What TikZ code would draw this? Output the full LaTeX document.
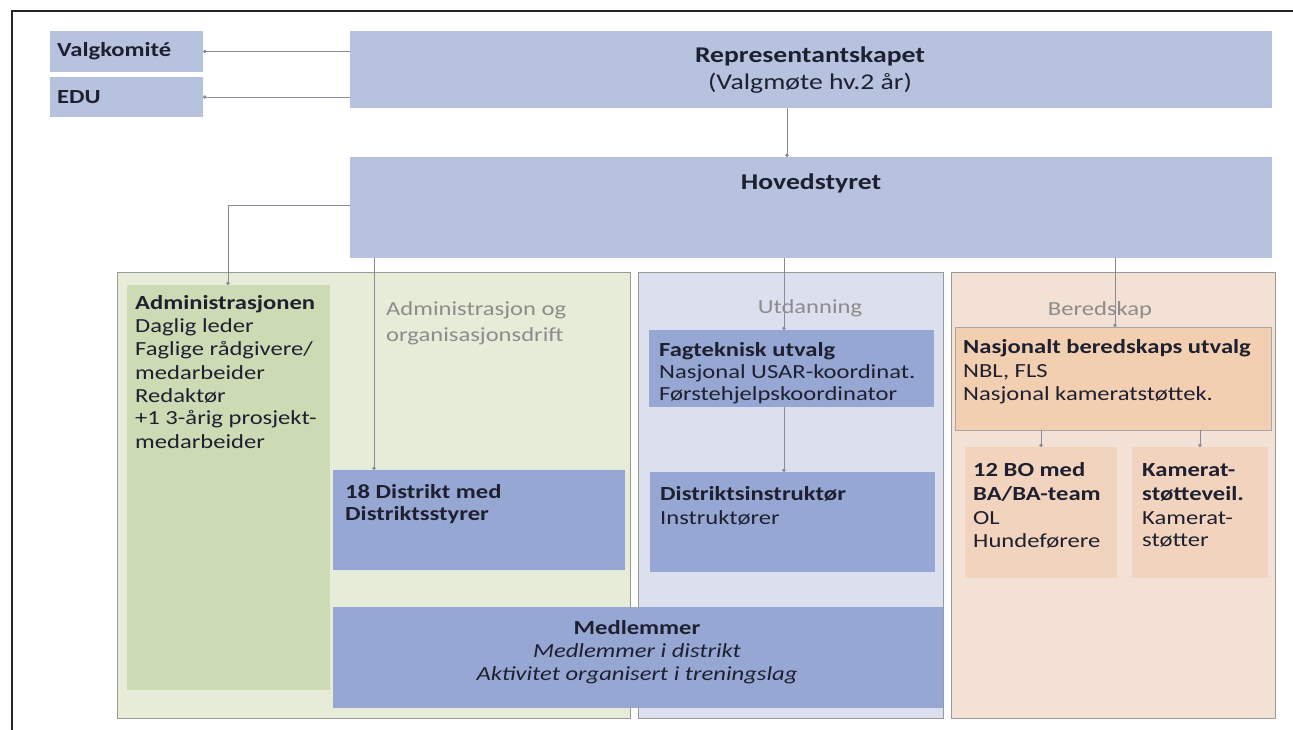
\documentclass[tikz,border=0pt]{standalone}
\usepackage{fontspec}
\setmainfont{Carlito}[FakeStretch=1.23]
\usetikzlibrary{arrows.meta}
\definecolor{lav}{HTML}{B7C2DE}
\definecolor{mblue}{HTML}{97A7D4}
\definecolor{gpanel}{HTML}{E6ECD8}
\definecolor{ginner}{HTML}{CDDBB5}
\definecolor{bpanel}{HTML}{DCDFEE}
\definecolor{opanel}{HTML}{F2E1D4}
\definecolor{obox}{HTML}{F3CFB2}
\definecolor{obox2}{HTML}{F2D4BE}
\definecolor{txt}{HTML}{1E2030}
\definecolor{gtxt}{HTML}{8C8C8C}
\definecolor{conn}{HTML}{8A8A96}
\tikzset{
  box/.style={anchor=north west, inner sep=0pt, outer sep=0pt},
  lavbox/.style={box, fill=lav},
  bluebox/.style={box, fill=mblue},
  panel/.style={box, draw=gray!80, line width=1pt},
  t/.style={anchor=west, inner sep=0pt, text=txt, font=\fontsize{20}{23}\selectfont},
  tb/.style={t, font=\fontsize{20}{23}\selectfont\bfseries},
  ti/.style={t, font=\fontsize{20}{23}\selectfont\itshape},
  tg/.style={t, text=gtxt},
  big/.style={t, anchor=center, font=\fontsize{22.5}{26}\selectfont},
  bigb/.style={big, font=\fontsize{22.5}{26}\selectfont\bfseries},
  link/.style={draw=conn, line width=0.8pt, -{Circle[length=3.5pt]}},
}
\begin{document}
\begin{tikzpicture}[x=1pt,y=-1pt]
\useasboundingbox (0,0) rectangle (1293,730);
\fill[white] (0,0) rectangle (1293,730);
% frame
\draw[line width=2pt, black!85] (12,730) -- (12,11) -- (1293,11);

% top boxes
\node[lavbox, minimum width=153, minimum height=41] (valg) at (50,31) {};
\node[lavbox, minimum width=153, minimum height=40] (edu) at (50,77) {};
\node[tb] (valgt) at (57,51) {Valgkomité};
\node[tb] (edut) at (57,97) {EDU};
\node[lavbox, minimum width=922, minimum height=77] (rep) at (350,31) {};
\node[bigb] (rept) at (810,56) {Representantskapet};
\node[big] (reps) at (810,83) {(Valgmøte hv.2 år)};
\node[lavbox, minimum width=922, minimum height=101] (hov) at (350,157) {};
\node[bigb] (hovt) at (811,183) {Hovedstyret};

% panels
\node[panel, fill=gpanel, minimum width=513, minimum height=446] (pg) at (117,272) {};
\node[panel, fill=bpanel, minimum width=305, minimum height=446] (pb) at (638,272) {};
\node[panel, fill=opanel, minimum width=324, minimum height=446] (po) at (951,272) {};

% green inner
\node[box, fill=ginner, minimum width=203, minimum height=405] (adm) at (127,285) {};
\node[tb] (a1) at (135,304) {Administrasjonen};
\node[t] (a2) at (135,327) {Daglig leder};
\node[t] (a3) at (135,350) {Faglige rådgivere/};
\node[t] (a4) at (135,373) {medarbeider};
\node[t] (a5) at (135,396) {Redaktør};
\node[t] (a6) at (135,419) {+1 3-årig prosjekt-};
\node[t] (a7) at (135,442) {medarbeider};

\node[tg] (aog1) at (386,310) {Administrasjon og};
\node[tg] (aog2) at (386,336) {organisasjonsdrift};
\node[tg, anchor=center] (utd) at (810,308) {Utdanning};
\node[tg, anchor=center] (ber) at (1100,310) {Beredskap};

% blue boxes
\node[bluebox, minimum width=292, minimum height=100] (dist) at (333,470) {};
\node[tb] (d1) at (345,492) {18 Distrikt med};
\node[tb] (d2) at (345,515) {Distriktsstyrer};

\node[bluebox, minimum width=285, minimum height=77] (fag) at (649,330) {};
\node[tb] (f1) at (659,351) {Fagteknisk utvalg};
\node[t] (f2) at (659,373) {Nasjonal USAR-koordinat.};
\node[t] (f3) at (659,395) {Førstehjelpskoordinator};

\node[bluebox, minimum width=285, minimum height=100] (dins) at (650,472) {};
\node[tb] (i1) at (660,494) {Distriktsinstruktør};
\node[t] (i2) at (660,518) {Instruktører};

\node[bluebox, minimum width=610, minimum height=101] (med) at (333,607) {};
\node[tb, anchor=center] (m1) at (637,628) {Medlemmer};
\node[ti, anchor=center] (m2) at (637,651) {Medlemmer i distrikt};
\node[ti, anchor=center] (m3) at (637,675) {Aktivitet organisert i treningslag};

% orange boxes
\node[box, fill=obox, draw=gray!70, line width=0.8pt, minimum width=316, minimum height=103] (nas) at (955,327) {};
\node[tb] (n1) at (963,348) {Nasjonalt beredskaps utvalg};
\node[t] (n2) at (963,372) {NBL, FLS};
\node[t] (n3) at (963,395) {Nasjonal kameratstøttek.};

\node[box, fill=obox2, minimum width=152, minimum height=131] (bo) at (965,447) {};
\node[tb] (b1) at (973,470) {12 BO med};
\node[tb] (b2) at (973,494) {BA/BA-team};
\node[t] (b3) at (973,518) {OL};
\node[t] (b4) at (973,541) {Hundeførere};

\node[box, fill=obox2, minimum width=136, minimum height=131] (kam) at (1132,447) {};
\node[tb] (k1) at (1142,470) {Kamerat-};
\node[tb] (k2) at (1142,494) {støtteveil.};
\node[t] (k3) at (1142,518) {Kamerat-};
\node[t] (k4) at (1142,541) {støtter};

% connectors
\draw[link] (rep.west |- valg.east) -- (valg.east);
\draw[link] (rep.west |- edu.east) -- (edu.east);
\draw[link] (rep.south -| 787,0) -- (hov.north -| 787,0);
\draw[link] (hov.west |- 0,205) -| (adm.north -| 228,0);
\draw[link] (hov.south -| 374,0) -- (dist.north -| 374,0);
\draw[link] (hov.south -| 784,0) -- (fag.north -| 784,0);
\draw[link] (hov.south -| 1115,0) -- (nas.north -| 1115,0);
\draw[link] (fag.south -| 784,0) -- (dins.north -| 784,0);
\draw[link] (nas.south -| bo.north) -- (bo.north);
\draw[link] (nas.south -| kam.north) -- (kam.north);
\end{tikzpicture}
\end{document}
